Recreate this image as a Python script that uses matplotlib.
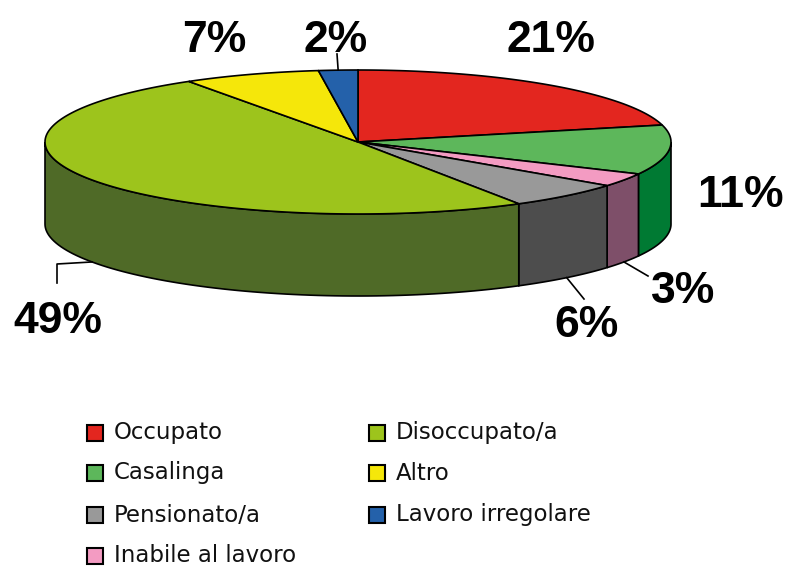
import numpy as np
import matplotlib.pyplot as plt
from matplotlib.patches import Polygon, Rectangle

# Condizione lavorativa (%)
labels = ["Occupato", "Casalinga", "Inabile al lavoro", "Pensionato/a",
          "Disoccupato/a", "Altro", "Lavoro irregolare"]
values = [21, 11, 3, 6, 49, 7, 2]
top_colors = ["#E3261F", "#5DB75B", "#F39BC2", "#999999",
              "#9DC41C", "#F5E70A", "#2461AA"]
side_colors = ["#9E1A15", "#007A33", "#7E4F69", "#4D4D4D",
               "#4F6A27", "#A89E07", "#163F70"]

legend_order = ["Occupato", "Casalinga", "Pensionato/a", "Inabile al lavoro",
                "Disoccupato/a", "Altro", "Lavoro irregolare"]

# pie geometry (pixels)
cx, cy = 358, 142
rx, ry = 313, 72
depth = 82


def rim(theta_deg, dz=0.0):
    t = np.radians(theta_deg)
    return cx + rx * np.cos(t), cy - ry * np.sin(t) + dz


fig = plt.figure(figsize=(7.87, 5.67), dpi=100)
ax = fig.add_axes([0, 0, 1, 1])
ax.set_xlim(0, 787)
ax.set_ylim(567, 0)
ax.axis("off")

fracs = np.array(values, dtype=float) / sum(values)
starts = 90 - 360 * np.concatenate([[0], np.cumsum(fracs)[:-1]])
ends = starts - 360 * fracs

# side walls (only the front half is visible: angles between -180 and 0)
for s, e, c in zip(starts, ends, side_colors):
    hi, lo = min(s, 0), max(e, -180)
    if hi <= lo:
        continue
    th = np.linspace(hi, lo, 80)
    xt, yt = rim(th)
    xb, yb = rim(th[::-1], depth)
    pts = np.column_stack([np.concatenate([xt, xb]), np.concatenate([yt, yb])])
    ax.add_patch(Polygon(pts, closed=True, facecolor=c, edgecolor="black", lw=1.2))

# top face
for s, e, c in zip(starts, ends, top_colors):
    th = np.linspace(s, e, 150)
    x, y = rim(th)
    pts = np.vstack([[cx, cy], np.column_stack([x, y])])
    ax.add_patch(Polygon(pts, closed=True, facecolor=c, edgecolor="black", lw=1.2))

# percentage labels
pct_font = dict(family="Liberation Sans", fontsize=32, fontweight="bold",
                ha="center", va="baseline", color="black")
label_pos = {
    "Occupato": (551, 52),
    "Casalinga": (740, 207),
    "Inabile al lavoro": (683, 303),
    "Pensionato/a": (586, 337),
    "Disoccupato/a": (58, 333),
    "Altro": (214, 52),
    "Lavoro irregolare": (336, 52),
}
for lab, v in zip(labels, values):
    x, y = label_pos[lab]
    ax.text(x, y, f"{v}%", **pct_font)

# leader lines
mids = dict(zip(labels, (starts + ends) / 2))
x0, y0 = rim(mids["Disoccupato/a"], depth)
ax.plot([x0, 57, 57], [y0, 264, 283], color="black", lw=1.2)
x0, y0 = rim(mids["Pensionato/a"], depth)
ax.plot([x0, 584], [y0, 299], color="black", lw=1.2)
x0, y0 = rim(mids["Inabile al lavoro"], depth)
ax.plot([x0, 648], [y0, 276], color="black", lw=1.2)
x0, y0 = rim(mids["Lavoro irregolare"])
ax.plot([x0, 337], [y0, 54], color="black", lw=1.2)

# legend, two columns
color_of = dict(zip(labels, top_colors))
col_x = [87, 369]
row_y = [433, 473, 515, 556]
for i, lab in enumerate(legend_order):
    col, row = divmod(i, 4)
    x, y = col_x[col], row_y[row]
    ax.add_patch(Rectangle((x, y - 8), 16, 16, facecolor=color_of[lab],
                           edgecolor="black", lw=1.5))
    ax.text(x + 27, y, lab, family="DejaVu Sans", fontsize=16.5,
            ha="left", va="center", color="#111111")

fig.savefig("out.png", dpi=100)
